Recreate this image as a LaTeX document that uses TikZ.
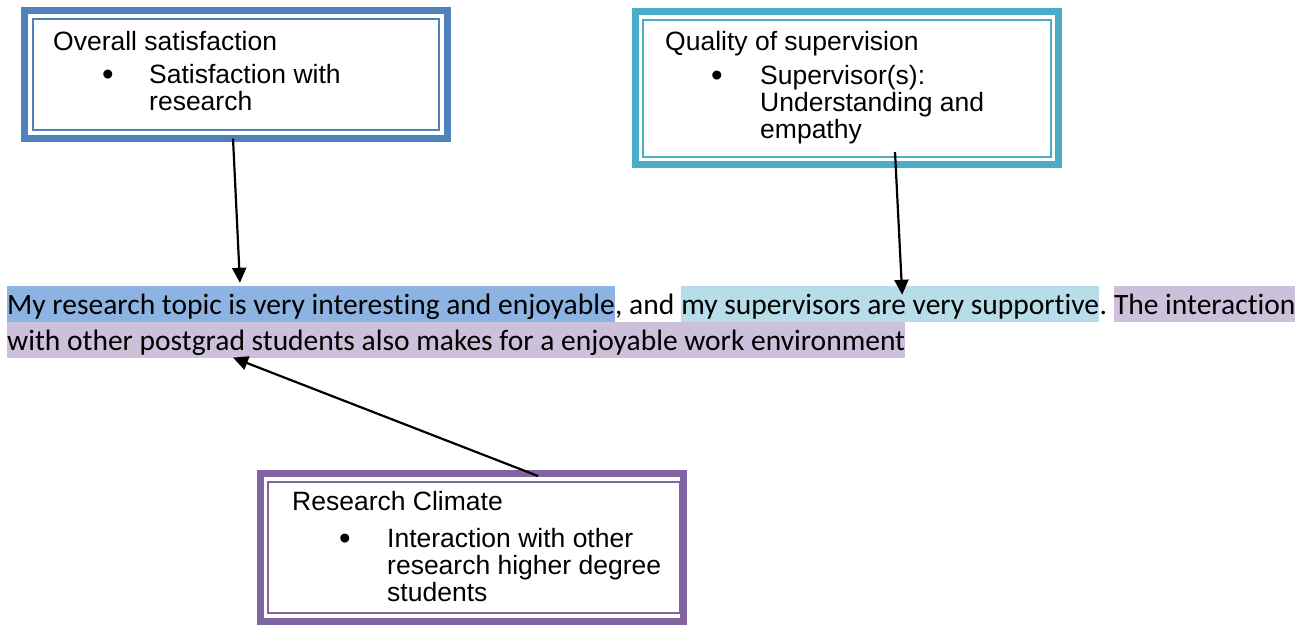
\documentclass[tikz,border=0pt]{standalone}
\usepackage{fontspec}
\setmainfont{Liberation Sans}
\newfontfamily\bodyfont[Ligatures=NoCommon]{Carlito}
\usetikzlibrary{arrows.meta,positioning}

\definecolor{frameblue}{HTML}{4F81BD}
\definecolor{frameteal}{HTML}{4BACC6}
\definecolor{framepurple}{HTML}{8064A2}
\definecolor{hlblue}{HTML}{8DB3E2}
\definecolor{hlteal}{HTML}{B6DDE8}
\definecolor{hlpurple}{HTML}{CCC0DA}

\begin{document}
\begin{tikzpicture}[x=1pt, y=-1pt,
	frame/.style={draw=#1, line width=7pt, minimum width=423pt, inner sep=0pt, outer sep=0pt},
	inner frame/.style={draw=#1, line width=2pt},
	label/.style={font=\fontsize{26.5}{27}\selectfont, inner sep=0pt, anchor=base west},
	dot/.style={label, font=\fontsize{33}{33}\selectfont},
	item/.style={label, align=left},
	body/.style={font=\bodyfont\fontsize{29.5}{36}\selectfont, inner sep=0pt, text height=28pt, text depth=8pt},
	link/.style={line width=2.2pt, -{Triangle[length=15pt, width=14pt]}}]
	
	\useasboundingbox (0,0) rectangle (1301,625);
	
	% Theme boxes (thick outer frame, thin inner line)
	\node[frame=frameblue, minimum height=128pt] (sat) at (235.5,74.5) {};
	\node[frame=frameteal, minimum height=153pt] (sup) at (847,88) {};
	\node[frame=framepurple, minimum height=148pt] (clim) at (472,547.5) {};
	
	\draw[inner frame=frameblue] ([shift={(8.5,8.5)}]sat.north west) rectangle ([shift={(-8.5,-8.5)}]sat.south east);
	\draw[inner frame=frameteal] ([shift={(7.5,8)}]sup.north west) rectangle ([shift={(-7.5,-7.5)}]sup.south east);
	\draw[inner frame=framepurple] ([shift={(7.5,8)}]clim.north west) rectangle ([shift={(-4,-9)}]clim.south east);
	
	% Box texts (item nodes sit on the baseline of their last line)
	\node[label] (satHead) at (53,50) {Overall satisfaction};
	\node[dot] (satDot) at (102,85) {\textbullet};
	\node[item] (satItem) at (149,110) {Satisfaction with\\research};
	
	\node[label] (supHead) at (665,50) {Quality of supervision};
	\node[dot] (supDot) at (711,86) {\textbullet};
	\node[item] (supItem) at (760,138) {Supervisor(s):\\Understanding and\\empathy};
	
	\node[label] (climHead) at (292,510) {Research Climate};
	\node[dot] (climDot) at (339,549) {\textbullet};
	\node[item] (climItem) at (387,601) {Interaction with other\\research higher degree\\students};
	
	% Quoted comment with highlighted parts
	\node[body, fill=hlblue, anchor=base west] (hlA) at (7,314) {My research topic is very interesting and enjoyable};
	\node[body, right=0pt of hlA] (andTxt) {,\ and\ \mbox{}};
	\node[body, fill=hlteal, right=0pt of andTxt] (hlB) {my supervisors are very supportive};
	\node[body, right=0pt of hlB] (stopTxt) {.\ \mbox{}};
	\node[body, fill=hlpurple, right=0pt of stopTxt] (hlC) {The interaction};
	\node[body, fill=hlpurple, anchor=north west] (hlD) at (hlA.south west) {with other postgrad students also makes for a enjoyable work environment};
	
	% Arrows from the themes to the text
	\draw[link] ([xshift=-2.5pt]sat.south) -- ([xshift=-71pt, yshift=3pt]hlA.north);
	\draw[link] ([xshift=48pt, yshift=12.5pt]sup.south) -- ([xshift=12pt, yshift=-9pt]hlB.north);
	\draw[link] ([xshift=66pt, yshift=-2.5pt]clim.north) -- ([xshift=226pt, yshift=1pt]hlD.south west);
	
\end{tikzpicture}
\end{document}
